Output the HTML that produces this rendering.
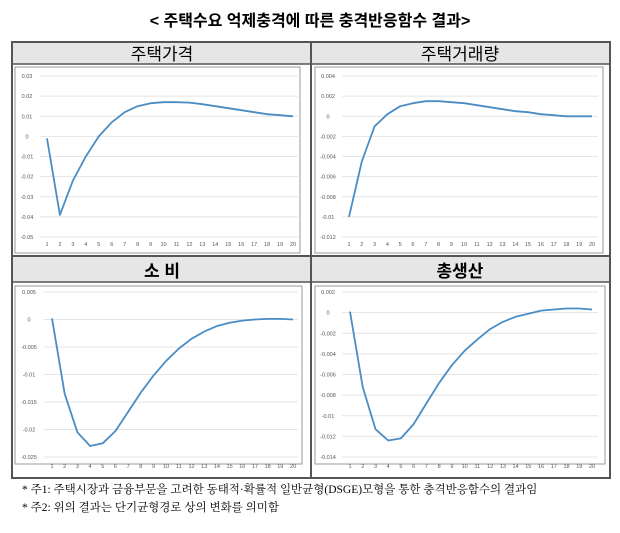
<!DOCTYPE html>
<html><head><meta charset="utf-8">
<style>
body{margin:0;background:#fff;width:620px;height:528px;overflow:hidden;font-family:"Liberation Sans","Noto Sans CJK KR",sans-serif}
</style></head><body>
<svg id="svg" width="620" height="528" xmlns="http://www.w3.org/2000/svg">
<text x="310" y="26" text-anchor="middle" font-size="16" font-weight="bold" font-family="Liberation Sans, Noto Sans CJK KR, sans-serif">&lt; 주택수요 억제충격에 따른 충격반응함수 결과&gt;</text>
<rect x="12" y="42" width="598" height="436" fill="#fff" stroke="#555" stroke-width="2"/>
<rect x="13" y="43" width="596" height="21" fill="#e6e6e6"/>
<rect x="13" y="257" width="596" height="25" fill="#e6e6e6"/>
<line x1="12" y1="64" x2="610" y2="64" stroke="#555" stroke-width="1.5"/>
<line x1="12" y1="256" x2="610" y2="256" stroke="#555" stroke-width="2"/>
<line x1="12" y1="282" x2="610" y2="282" stroke="#555" stroke-width="1.5"/>
<line x1="311" y1="42" x2="311" y2="478" stroke="#555" stroke-width="2"/>
<text x="162" y="60" text-anchor="middle" font-size="17" font-family="Liberation Sans, Noto Sans CJK KR, sans-serif">주택가격</text>
<text x="460" y="60" text-anchor="middle" font-size="17" font-family="Liberation Sans, Noto Sans CJK KR, sans-serif">주택거래량</text>
<text x="162" y="277" text-anchor="middle" font-size="17" font-weight="bold" font-family="Liberation Sans, Noto Sans CJK KR, sans-serif">소 비</text>
<text x="460" y="277" text-anchor="middle" font-size="17" font-weight="bold" font-family="Liberation Sans, Noto Sans CJK KR, sans-serif">총생산</text>
<text x="22" y="493" font-size="11.5" font-family="Liberation Serif, Noto Serif CJK SC, serif">* 주1: 주택시장과 금융부문을 고려한 동태적·확률적 일반균형(DSGE)모형을 통한 충격반응함수의 결과임</text>
<text x="22" y="511" font-size="11.5" font-family="Liberation Serif, Noto Serif CJK SC, serif">* 주2: 위의 결과는 단기균형경로 상의 변화를 의미함</text>
</svg>
<script>
const periods=[1,2,3,4,5,6,7,8,9,10,11,12,13,14,15,16,17,18,19,20];
const housePrice=[-0.001,-0.039,-0.022,-0.01,0,0.007,0.012,0.015,0.0165,0.017,0.017,0.0168,0.016,0.015,0.014,0.013,0.012,0.011,0.0105,0.010];
const houseTicks=[0.03,0.02,0.01,0,-0.01,-0.02,-0.03,-0.04,-0.05];
const houseTickLabels=["0.03","0.02","0.01","0","-0.01","-0.02","-0.03","-0.04","-0.05"];
const transactions=[-0.01,-0.0045,-0.001,0.0002,0.001,0.0013,0.0015,0.0015,0.0014,0.0013,0.0011,0.0009,0.0007,0.0005,0.0004,0.0002,0.0001,0.0,0.0,0.0];
const transTicks=[0.004,0.002,0,-0.002,-0.004,-0.006,-0.008,-0.01,-0.012];
const transTickLabels=["0.004","0.002","0","-0.002","-0.004","-0.006","-0.008","-0.01","-0.012"];
const consumption=[0.0002,-0.0135,-0.0205,-0.023,-0.0225,-0.0203,-0.0168,-0.0133,-0.0102,-0.0075,-0.0053,-0.0035,-0.0022,-0.0012,-0.0006,-0.0002,0,0.0001,0.0001,0];
const consTicks=[0.005,0,-0.005,-0.01,-0.015,-0.02,-0.025];
const consTickLabels=["0.005","0","-0.005","-0.01","-0.015","-0.02","-0.025"];
const gdp=[0.0001,-0.0072,-0.0113,-0.0124,-0.0122,-0.0108,-0.0088,-0.0068,-0.0051,-0.0037,-0.0026,-0.0016,-0.0009,-0.0004,-0.0001,0.0002,0.0003,0.0004,0.0004,0.0003];
const gdpTicks=[0.002,0,-0.002,-0.004,-0.006,-0.008,-0.01,-0.012,-0.014];
const gdpTickLabels=["0.002","0","-0.002","-0.004","-0.006","-0.008","-0.01","-0.012","-0.014"];

const NS="http://www.w3.org/2000/svg";
const svg=document.getElementById('svg');
function mk(tag,attrs,parent){const e=document.createElementNS(NS,tag);for(const k in attrs)e.setAttribute(k,attrs[k]);(parent||svg).appendChild(e);return e;}
function chart(name,box,plot,values,ticks,labels){
  const g=mk('g',{});
  
  
  const fr=mk('rect',{x:box[0],y:box[1],width:box[2]-box[0],height:box[3]-box[1],fill:'#fff',stroke:'#999','stroke-width':1},g);
  
  
  const ymax=ticks[0],ymin=ticks[ticks.length-1];
  const yS=v=>plot.y0+(ymax-v)/(ymax-ymin)*(plot.y1-plot.y0);
  const xS=p=>plot.x0+(p-1)/(periods.length-1)*(plot.x1-plot.x0);
  ticks.forEach((t,i)=>{
    const l=mk('line',{x1:plot.gx0,x2:plot.gx1,y1:yS(t),y2:yS(t),stroke:'#e4e4e4','stroke-width':1},g);
    
    
    const tx=mk('text',{x:plot.lx,y:yS(t)+2,'font-size':5.5,fill:'#555','text-anchor':'middle','font-family':'Liberation Sans, sans-serif'},g);
    tx.textContent=labels[i];
    
    
  });
  periods.forEach(p=>{
    const tx=mk('text',{x:xS(p),y:plot.xly,'font-size':5.5,fill:'#555','text-anchor':'middle','font-family':'Liberation Sans, sans-serif'},g);
    tx.textContent=String(p);
    
    
  });
  const d=values.map((v,i)=>(i?'L':'M')+xS(periods[i]).toFixed(1)+','+yS(v).toFixed(1)).join(' ');
  const path=mk('path',{d:d,fill:'none',stroke:'#4a8cc4','stroke-width':1.8,'stroke-linejoin':'round'},g);
  
  
}
chart('house-price',[15,67,300,253],{x0:47,x1:293,y0:76,y1:237,gx0:40,gx1:298,lx:27,xly:246},housePrice,houseTicks,houseTickLabels);
chart('transactions',[315,67,603,253],{x0:349,x1:592,y0:76,y1:237,gx0:342,gx1:598,lx:328,xly:246},transactions,transTicks,transTickLabels);
chart('consumption',[15,286,302,464],{x0:52,x1:293,y0:292,y1:457,gx0:44,gx1:298,lx:29,xly:468},consumption,consTicks,consTickLabels);
chart('gdp',[315,286,605,464],{x0:350,x1:592,y0:292,y1:457,gx0:342,gx1:598,lx:328,xly:468},gdp,gdpTicks,gdpTickLabels);
</script>
</body></html>
